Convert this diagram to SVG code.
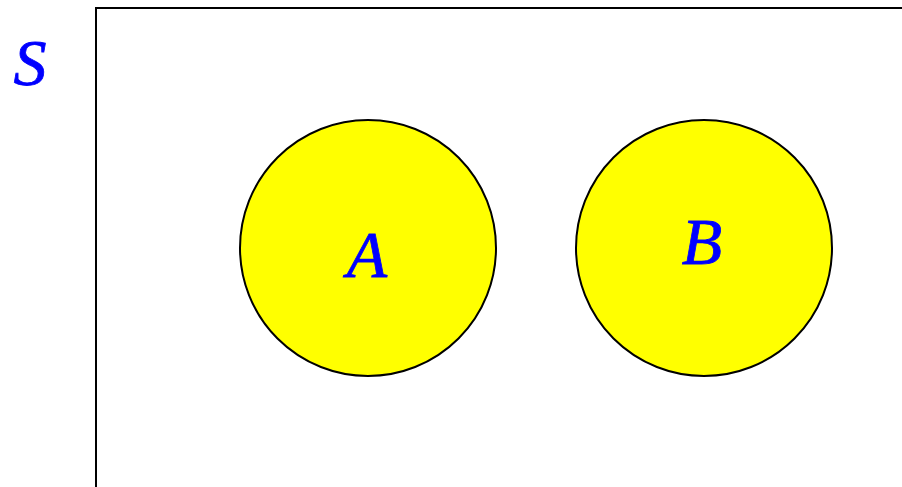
<svg xmlns="http://www.w3.org/2000/svg" width="902" height="487" viewBox="0 0 902 487">
<style>
.set{fill:#ffff00;stroke:#000;stroke-width:2}
.lbl{font-family:"Liberation Serif","Times New Roman",serif;font-style:italic;font-size:66px;fill:#0000ff;stroke:#0000ff;stroke-width:0.8;text-anchor:middle}
</style>
<rect width="902" height="487" fill="#fff"/>
<g id="universe">
<path d="M96 487 V8 H902" fill="none" stroke="#000" stroke-width="2"/>
<text class="lbl" x="30" y="85">S</text>
</g>
<g id="setA">
<circle class="set" cx="368" cy="248" r="128"/>
<text class="lbl" x="367" y="277">A</text>
</g>
<g id="setB">
<circle class="set" cx="704" cy="248" r="128"/>
<text class="lbl" x="702" y="264">B</text>
</g>
<g id="connectors"></g>
</svg>
